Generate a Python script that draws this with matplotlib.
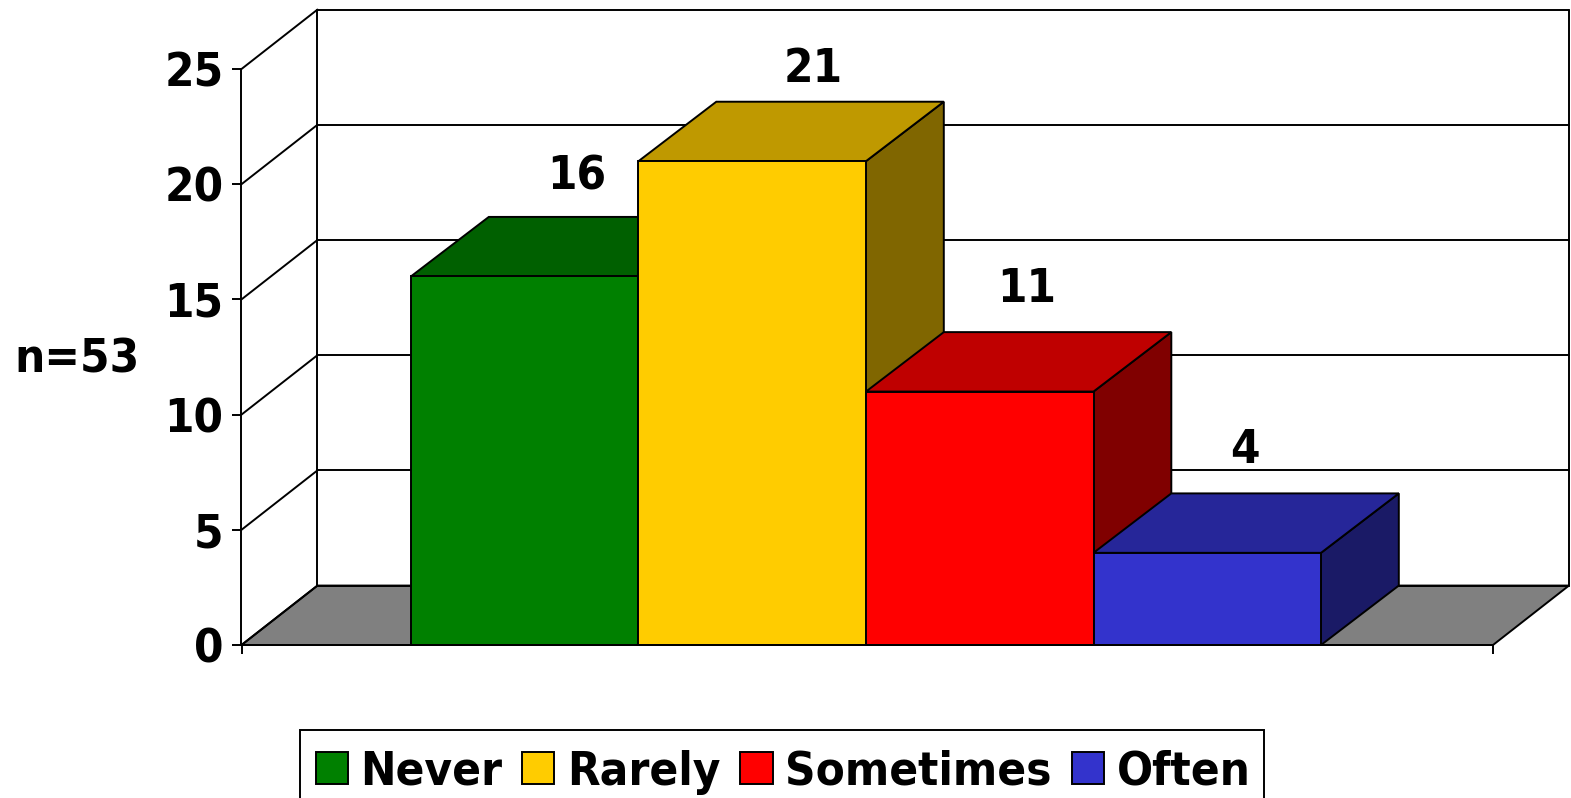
import matplotlib
matplotlib.use("Agg")
import matplotlib.pyplot as plt
from matplotlib.patches import Polygon, Patch, Rectangle
from matplotlib import font_manager as fm

# ---- data ----
categories = ["Never", "Rarely", "Sometimes", "Often"]
values = [16, 21, 11, 4]
yticks = [0, 5, 10, 15, 20, 25]
annotation = "n=53"

# ---- styles ----
front_colors = ["#008000", "#FFCC00", "#FF0000", "#3333CC"]
top_colors = ["#006000", "#BF9900", "#BF0000", "#262699"]
side_colors = ["#004000", "#806600", "#800000", "#1A1A66"]
label_lift = [28.5, 23.5, 30.8, 30.8]   # points above the rear top edge
label_shift = [9.4, 16, 6, -1]          # points right of the top face centre
FLOOR = "#808080"
FS = 34
LW = 1.4

font = fm.FontProperties(family="DejaVu Sans", weight="bold", stretch="condensed", size=FS)
if "Condensed" not in fm.findfont(font):
    font = fm.FontProperties(family="Liberation Sans", weight="bold", size=FS + 2)

W, H = 1571, 798
fig = plt.figure(figsize=(W / 100, H / 100), dpi=100)

# axes frame = the front plane of the 3-D box (pixel box from the reference)
L, R, T, B = 241.5, 1493, 69, 645
ax = fig.add_axes([L / W, 1 - B / H, (R - L) / W, (B - T) / H])
xmin, xmax = -0.745, 4.756
ax.set_xlim(xmin, xmax)
ax.set_ylim(0, 25)
ax.patch.set_alpha(0)
dx, dy = 0.334, 2.58   # depth of the box in data units
bar_dx = 0.342         # depth of the bars

ax.spines["top"].set_visible(False)
ax.spines["right"].set_visible(False)
for s in ("left", "bottom"):
    ax.spines[s].set_linewidth(LW)
    ax.spines[s].set_zorder(8)
ax.set_yticks(yticks)
ax.set_yticklabels([str(t) for t in yticks], fontproperties=font)
ax.set_xticks([xmin, xmax])
ax.set_xticklabels(["", ""])
ax.tick_params(axis="both", length=6.5, width=LW, color="black")
ax.tick_params(axis="y", pad=6.5)


def line(xs, ys, z=1):
    ax.plot(xs, ys, color="black", lw=LW, clip_on=False, zorder=z,
            solid_capstyle="round")


# floor
ax.add_patch(Polygon([(xmin, 0), (xmax, 0), (xmax + dx, dy), (xmin + dx, dy)],
                     closed=True, fc=FLOOR, ec="black", lw=LW, clip_on=False, zorder=1))
# walls and gridlines
line([xmin + dx, xmin + dx], [dy, 25 + dy])
line([xmax + dx, xmax + dx], [dy, 25 + dy])
for t in yticks:
    line([xmin, xmin + dx], [t, t + dy])
    line([xmin + dx, xmax + dx], [t + dy, t + dy])

# bars, painted left to right
for i, (v, fc, tc, sc) in enumerate(zip(values, front_colors, top_colors, side_colors)):
    z = 3 + i * 0.1
    ax.add_patch(Polygon([(i + 1, 0), (i + 1 + bar_dx, dy), (i + 1 + bar_dx, v + dy), (i + 1, v)],
                         closed=True, fc=sc, ec="black", lw=LW, clip_on=False, zorder=z))
    ax.add_patch(Polygon([(i, v), (i + 1, v), (i + 1 + bar_dx, v + dy), (i + bar_dx, v + dy)],
                         closed=True, fc=tc, ec="black", lw=LW, clip_on=False, zorder=z))
    ax.bar(i + 0.5, v, width=1, color=fc, edgecolor="black", linewidth=LW,
           clip_on=False, zorder=z)
    ax.annotate(str(v), xy=(i + 0.5 + bar_dx / 2, v + dy),
                xytext=(label_shift[i], label_lift[i]),
                textcoords="offset points", ha="center", va="center",
                fontproperties=font, zorder=9, annotation_clip=False)

fig.text(77 / W, 1 - 360.5 / H, annotation, ha="center", va="center", fontproperties=font)

# legend frame runs past the lower edge of the picture, as in the reference
fig.add_artist(Rectangle((300 / W, 1 - 810 / H), 964 / W, 80 / H,
                         transform=fig.transFigure, fc="white", ec="black",
                         lw=LW, zorder=1))
handles = [Patch(fc=c, ec="black", lw=LW) for c in front_colors]
leg = fig.legend(handles, categories, loc="upper left",
                 bbox_to_anchor=(300 / W, 1 - 734 / H), ncol=4, frameon=False,
                 prop=font, borderaxespad=0,
                 borderpad=0.33, handlelength=0.68, handleheight=0.68,
                 handletextpad=0.27, columnspacing=0.42)
leg.set_zorder(5)

fig.savefig("out.png", dpi=100, facecolor="white")
